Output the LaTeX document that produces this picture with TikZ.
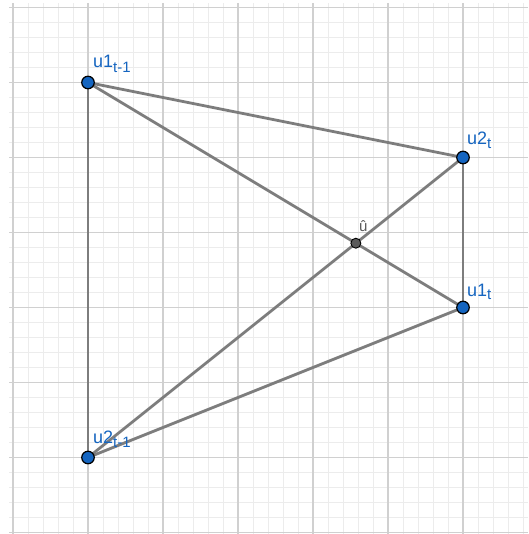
\documentclass[tikz,border=0pt]{standalone}
\usepackage{fontspec}
\setmainfont{Liberation Sans}
\definecolor{ptblue}{RGB}{21,101,192}
\definecolor{seggray}{RGB}{125,125,125}
\definecolor{majgrid}{RGB}{208,208,208}
\definecolor{mingrid}{RGB}{236,236,236}
\definecolor{interdark}{RGB}{90,90,90}
\tikzset{
  seg/.style={draw=seggray, line width=2.8pt},
  bluept/.style={circle, fill=ptblue, draw=black, line width=1.2pt, minimum size=12.5pt, inner sep=0pt},
  grayptstyle/.style={circle, fill=interdark, draw=black, line width=0.9pt, minimum size=10pt, inner sep=0pt},
  lbl/.style={anchor=base west, inner sep=0pt, text=ptblue, font=\fontsize{18}{21}\selectfont},
  hatlbl/.style={anchor=base west, inner sep=0pt, text=interdark, font=\fontsize{15}{17}\selectfont}
}
\newcommand{\sbx}[1]{$_{\hbox{\fontsize{15}{17}\selectfont #1}}$}
\begin{document}
\begin{tikzpicture}[x=1pt,y=-1pt]
\useasboundingbox (0,0) rectangle (528,534);
\fill[white] (0,0) rectangle (528,534);
\begin{scope}
\clip (9,4) rectangle (528,534);
\foreach \k in {0,...,35} {
  \draw[mingrid, line width=1pt] ({13+15*\k},0) -- ({13+15*\k},534);
  \draw[mingrid, line width=1pt] (0,{7.5+15*\k}) -- (528,{7.5+15*\k});
}
\foreach \k in {0,...,7} {
  \draw[majgrid, line width=1.3pt] ({13+75*\k},0) -- ({13+75*\k},534);
  \draw[majgrid, line width=1.3pt] (0,{7.5+75*\k}) -- (528,{7.5+75*\k});
}
\end{scope}
% point positions
\coordinate (A) at (88,82.5);   % u1_{t-1}
\coordinate (B) at (88,457.5);  % u2_{t-1}
\coordinate (C) at (463,157.5); % u2_t
\coordinate (D) at (463,307.5); % u1_t
\coordinate (U) at (intersection of A--D and B--C);
% segments
\draw[seg] (A) -- (B);
\draw[seg] (A) -- (C);
\draw[seg] (C) -- (D);
\draw[seg] (B) -- (D);
\draw[seg] (A) -- (D);
\draw[seg] (B) -- (C);
% points
\node[bluept] (pA) at (A) {};
\node[bluept] (pB) at (B) {};
\node[bluept] (pC) at (C) {};
\node[bluept] (pD) at (D) {};
\node[grayptstyle] (pU) at (U) {};
% labels
\node[lbl] (lA) at (93,68) {u1\sbx{t-1}};
\node[lbl] (lB) at (93,443) {u2\sbx{t-1}};
\node[lbl] (lC) at (467,145) {u2\sbx{t}};
\node[lbl] (lD) at (467,296) {u1\sbx{t}};
\node[hatlbl] (lU) at (359,232) {û};
\end{tikzpicture}
\end{document}
